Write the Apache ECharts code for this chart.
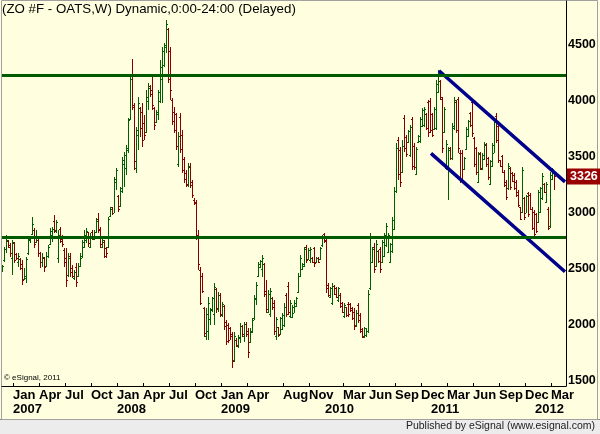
<!DOCTYPE html>
<html>
<head>
<meta charset="utf-8">
<title>ZO #F - OATS,W</title>
<script src="https://cdn.jsdelivr.net/npm/echarts@6/dist/echarts.min.js"></script>
<style>
html, body { margin: 0; padding: 0; background: #ffffe0; }
#chart { width: 600px; height: 434px; }
</style>
</head>
<body>
<div id="chart"></div>
<script>
// weekly bars, first bar is the week of 2006-12-01 (Fridays)
var startDay = Date.UTC(2006, 11, 1);
var weekCount = 282; // axis slots, the last few are empty

var opens = [
  2490,2580,2680,2750,2710,2600,2730,2630,2560,2590,
  2540,2410,2420,2640,2760,2810,2850,2740,2760,2640,
  2560,2600,2530,2620,2720,2800,2930,2840,2600,2860,
  2770,2670,2600,2450,2620,2510,2420,2520,2440,2530,
  2600,2700,2760,2830,2700,2830,2770,2830,2950,2860,
  2700,2740,2690,
  2700,2970,3050,3000,3280,3150,3060,3200,3440,3400,
  3560,3840,4220,3960,3400,3700,3940,3900,3800,3720,
  4000,4130,4100,3940,3810,3880,4000,4200,4320,4480,
  4640,4450,4010,3900,3880,3440,3860,3700,3480,3360,
  3250,3410,3280,3120,3100,2800,2490,2440,2150,1900,
  1950,2050,2140,2100,2320,2140,2270,2090,2170,2030,
  2000,1970,1920,1690,1870,1810,1880,1990,1900,2010,
  1950,1850,1940,2060,2230,2440,2520,2500,2540,2300,
  2120,2100,2240,2200,1900,1980,1920,1960,2000,2270,
  2350,2080,2070,2110,2170,2290,2440,2500,2530,2700,
  2590,2580,2600,2690,2560,2600,2590,2710,2810,2760,
  2360,2250,2200,2350,2330,2220,2270,2200,2080,2160,
  2190,2190,2150,2120,2000,2180,2090,1960,1890,1910,
  1950,2330,2560,2700,2530,2660,2680,2560,2620,2710,
  2650,2560,2660,2860,3200,3650,3560,3370,3850,3680,
  3630,3520,3840,3600,3350,3630,3640,3780,3790,3880,
  3990,4000,3880,3750,3760,4080,4180,4020,3720,3400,
  3420,3580,3490,3760,3990,4020,3540,3540,3390,3570,
  3690,3890,3990,3670,3580,3280,3540,3390,3480,3610,
  3490,3260,3420,3540,3870,3780,3470,3510,3370,3280,
  3220,3400,3360,3340,3280,3190,3050,3010,3130,3000,
  3180,3160,3040,3010,2990,2920,3010,3130,3260,3100,
  3040,2880,3300,3360
];
var highs = [
  2536,2700,2804,2760,2730,2759,2740,2640,2640,2595,
  2581,2506,2610,2789,2789,2968,2863,2849,2790,2655,
  2640,2610,2655,2715,2863,2878,2982,2938,2849,2878,
  2804,2685,2685,2640,2640,2536,2491,2551,2551,2640,
  2759,2849,2863,2834,2819,2849,2849,2953,2997,2878,
  2774,2759,2700,
  2968,3057,3057,3325,3399,3161,3235,3503,3548,3607,
  3846,4232,4372,3979,3771,4039,3950,3979,3875,4098,
  4158,4143,4232,3950,3920,4098,4366,4485,4515,4725,
  4649,4485,4024,3950,3890,3727,3890,3741,3503,3384,
  3444,3444,3295,3131,3116,2849,2521,2462,2164,2149,
  2253,2149,2253,2372,2328,2298,2283,2209,2179,2045,
  2015,1986,1941,1941,1881,1911,2015,2000,2030,2030,
  1971,1971,2060,2268,2387,2566,2581,2625,2551,2402,
  2313,2328,2253,2224,2075,1986,2075,2105,2194,2283,
  2387,2224,2179,2224,2253,2462,2625,2551,2700,2715,
  2685,2700,2610,2700,2610,2610,2700,2804,2819,2789,
  2372,2343,2372,2357,2343,2343,2283,2209,2194,2164,
  2209,2194,2164,2149,2134,2194,2105,1971,1986,1971,
  2313,2819,2700,2730,2759,2670,2700,2759,2819,2908,
  2819,2730,2968,3235,3622,3682,3593,3652,3875,3697,
  3741,3786,3860,3622,3593,3697,3860,3935,3950,3890,
  4009,4024,3890,3950,4188,4275,4188,4039,3950,3652,
  3593,3593,3801,4039,4009,4039,3563,3563,3503,3771,
  3831,3905,4009,3682,3593,3548,3548,3533,3637,3622,
  3503,3474,3622,3831,3890,3801,3474,3518,3384,3295,
  3444,3414,3369,3354,3295,3207,3057,3414,3146,3161,
  3191,3176,3057,3027,2997,3207,3235,3354,3265,3280,
  3057,3369,3399,3369
];
var lows = [
  2477,2566,2640,2685,2610,2447,2551,2581,2521,2491,
  2357,2402,2372,2625,2730,2804,2685,2730,2610,2506,
  2521,2477,2521,2595,2715,2744,2819,2819,2551,2730,
  2700,2521,2343,2432,2432,2417,2402,2343,2432,2521,
  2595,2685,2730,2700,2685,2759,2759,2819,2819,2685,
  2685,2595,2595,
  2685,2968,2982,2997,3207,3012,3057,3176,3235,3340,
  3533,3831,3920,3384,3354,3563,3682,3593,3652,3712,
  3920,4039,3920,3741,3801,3831,3979,3979,4307,4426,
  4158,4009,3786,3712,3563,3414,3533,3354,3265,3235,
  3235,3221,3131,3072,2759,2491,2179,2283,1896,1866,
  1866,2000,2120,2000,2105,2120,2075,2075,1956,1822,
  1837,1866,1614,1673,1807,1792,1837,1896,1852,1896,
  1703,1837,1926,2045,2179,2432,2506,2432,2253,2105,
  2105,2075,2134,1911,1866,1896,1911,1956,1986,2075,
  2090,2060,2060,2105,2164,2283,2432,2491,2521,2551,
  2581,2551,2551,2521,2551,2551,2581,2700,2730,2283,
  2253,2238,2179,2268,2238,2209,2149,2105,2060,2075,
  2075,2120,2045,1956,1986,2015,1926,1881,1881,1896,
  1926,2313,2551,2462,2521,2551,2462,2551,2610,2700,
  2640,2551,2640,2849,3176,3295,3235,3354,3548,3503,
  3622,3503,3384,3384,3340,3622,3622,3771,3771,3741,
  3682,3712,3682,3741,3741,4069,4009,3533,3712,3384,
  3116,3474,3474,3741,3712,3533,3265,3265,3384,3563,
  3682,3771,3682,3414,3340,3265,3384,3384,3474,3414,
  3295,3250,3414,3533,3622,3444,3414,3354,3235,3116,
  3207,3207,3280,3207,3146,3057,2938,2997,2938,2997,
  2968,3027,2849,2789,2819,2908,2997,3116,3176,3087,
  2849,2863,3295,3207
];
var closes = [
  2525,2680,2760,2700,2640,2740,2580,2595,2620,2510,
  2400,2440,2590,2770,2775,2900,2720,2790,2640,2560,
  2610,2520,2620,2700,2840,2860,2850,2920,2800,2750,
  2720,2560,2400,2600,2470,2440,2470,2380,2530,2620,
  2740,2800,2840,2730,2790,2780,2830,2930,2850,2720,
  2760,2620,2640,
  2950,3040,3000,3300,3380,3040,3220,3470,3520,3580,
  3830,4200,3950,3460,3740,3980,3760,3650,3700,4040,
  4120,4060,3960,3790,3900,4080,4300,4450,4500,4690,
  4200,4100,3820,3740,3600,3690,3570,3380,3300,3260,
  3420,3250,3160,3090,2790,2540,2200,2300,1930,2100,
  2200,2130,2240,2340,2150,2270,2100,2190,1990,1860,
  1870,1900,1680,1900,1820,1890,1990,1920,2010,1920,
  1760,1950,2040,2240,2360,2540,2570,2600,2280,2140,
  2280,2300,2160,1950,2050,1910,2060,2090,2160,2100,
  2120,2200,2160,2200,2240,2440,2600,2540,2680,2580,
  2670,2680,2560,2550,2600,2560,2690,2790,2750,2330,
  2270,2330,2350,2280,2250,2330,2170,2120,2180,2090,
  2100,2130,2060,1990,2110,2040,1950,1900,1970,1950,
  2280,2780,2680,2500,2720,2570,2500,2740,2800,2880,
  2800,2720,2940,3200,3580,3350,3280,3600,3580,3530,
  3730,3770,3420,3410,3570,3690,3840,3920,3930,3760,
  3720,3740,3700,3930,4150,4250,4040,3580,3930,3620,
  3560,3490,3780,4010,3740,3580,3300,3290,3490,3750,
  3820,3790,3710,3440,3370,3530,3400,3520,3620,3440,
  3320,3460,3610,3810,3650,3470,3420,3370,3250,3140,
  3420,3230,3290,3220,3160,3070,2950,3380,2960,3150,
  2990,3040,2870,2810,2840,3190,3220,3330,3190,3260,
  2870,3340,3390,3326
];

// horizontal support / resistance and the falling channel
var levels = [4232, 2780];
var channelUpper = [[218, 4270], [281, 3278]];
var channelLower = [[214, 3532], [281, 2475]];

// axis labels
var yTicks = [1500, 2000, 2500, 3000, 3500, 4000, 4500];
var monthTicks = ['2007-01', '2007-04', '2007-07', '2007-10', '2008-01', '2008-04', '2008-07', '2008-10',
  '2009-01', '2009-04', '2009-08', '2009-11', '2010-03', '2010-06', '2010-09', '2010-12',
  '2011-03', '2011-06', '2011-09', '2011-12', '2012-03'];
var yearTicks = ['2007', '2008', '2009', '2010', '2011', '2012'];
var monthNames = ['Jan', 'Feb', 'Mar', 'Apr', 'May', 'Jun', 'Jul', 'Aug', 'Sep', 'Oct', 'Nov', 'Dec'];

var upColor = '#005f00';
var downColor = '#860000';
var levelColor = '#005a00';
var channelColor = '#00008c';
var font = '"Liberation Sans", Arial, sans-serif';

var weeks = [];
for (var w = 0; w < weekCount; w++) {
  weeks.push(new Date(startDay + w * 7 * 864e5).toISOString().slice(0, 10));
}

function firstWeekOf (ym) {
  for (var i = 0; i < weeks.length; i++) {
    if (weeks[i].slice(0, 7) === ym) return i;
  }
  return -1;
}

var monthLabelAt = {};
monthTicks.forEach(function (ym) {
  monthLabelAt[firstWeekOf(ym)] = monthNames[+ym.slice(5) - 1];
});
var yearLabelAt = {};
yearTicks.forEach(function (y) {
  yearLabelAt[firstWeekOf(y + '-01')] = y;
});

var barData = closes.map(function (c, i) {
  return [i, opens[i], highs[i], lows[i], c];
});
var lastClose = closes[closes.length - 1];

// OHLC bar: vertical high-low line, open tick left, close tick right
function renderBar (params, api) {
  var i = api.value(0);
  var hi = api.coord([i, api.value(2)]);
  var lo = api.coord([i, api.value(3)]);
  var op = api.coord([i, api.value(1)]);
  var cl = api.coord([i, api.value(4)]);
  var x = Math.round(hi[0]) - 1;
  var y1 = Math.round(hi[1]);
  var y2 = Math.round(lo[1]);
  var col = api.value(4) >= api.value(1) ? upColor : downColor;
  return {
    type: 'group',
    children: [
      { type: 'rect', shape: { x: x, y: y1, width: 1, height: Math.max(1, y2 - y1) }, style: { fill: col } },
      { type: 'rect', shape: { x: x - 1, y: Math.round(op[1]), width: 1, height: 1 }, style: { fill: col } },
      { type: 'rect', shape: { x: x + 1, y: Math.round(cl[1]), width: 1, height: 1 }, style: { fill: col } }
    ]
  };
}

var axisText = { fontFamily: font, fontWeight: 'bold', fontSize: 13, color: '#000' };

var chart = echarts.init(document.getElementById('chart'));
chart.setOption({
  animation: false,
  backgroundColor: '#ffffe0',
  title: {
    text: '(ZO #F - OATS,W) Dynamic,0:00-24:00 (Delayed)',
    left: 2,
    top: 3,
    padding: 0,
    textStyle: { fontFamily: font, fontWeight: 'normal', fontSize: 13.3, color: '#000' }
  },
  grid: { left: 2, right: 34, top: 1, bottom: 48 },
  xAxis: [
    {
      type: 'category',
      data: weeks,
      boundaryGap: true,
      position: 'bottom',
      axisLine: { lineStyle: { color: '#000', width: 1 } },
      axisTick: {
        show: true,
        inside: true,
        length: 3,
        alignWithLabel: true,
        interval: function (idx) { return monthLabelAt[idx] !== undefined },
        lineStyle: { color: '#000' }
      },
      axisLabel: Object.assign({
        interval: function (idx) { return monthLabelAt[idx] !== undefined },
        formatter: function (v, idx) { return monthLabelAt[idx] || '' },
        align: 'left',
        margin: 3
      }, axisText),
      splitLine: { show: false }
    },
    {
      type: 'category',
      data: weeks,
      boundaryGap: true,
      position: 'bottom',
      axisLine: { show: false },
      axisTick: { show: false },
      axisLabel: Object.assign({
        interval: function (idx) { return yearLabelAt[idx] !== undefined },
        formatter: function (v, idx) { return yearLabelAt[idx] || '' },
        align: 'left',
        margin: 17
      }, axisText),
      splitLine: { show: false }
    }
  ],
  yAxis: {
    type: 'value',
    position: 'right',
    min: 1455,
    max: 4893,
    axisLine: { show: true, lineStyle: { color: '#000', width: 1 } },
    axisTick: { show: false },
    splitLine: { show: false },
    axisLabel: Object.assign({
      customValues: yTicks,
      margin: 2,
      formatter: function (v) { return String(v) }
    }, axisText, { fontSize: 12.5 })
  },
  graphic: [
    { type: 'rect', shape: { x: 0, y: 420, width: 600, height: 14 }, style: { fill: '#ececec' }, silent: true },
    { type: 'line', shape: { x1: 0, y1: 419.5, x2: 600, y2: 419.5 }, style: { stroke: '#8a8a8a', lineWidth: 1 }, silent: true },
    { type: 'rect', shape: { x: 1.5, y: 0.5, width: 596, height: 419 }, style: { fill: 'none', stroke: '#a0a0a0', lineWidth: 1 }, silent: true },
    { type: 'text', right: 5, top: 421, style: { text: 'Published by eSignal (www.esignal.com)', font: '10.5px ' + font, fill: '#222' }, silent: true },
    { type: 'text', left: 4, top: 374, style: { text: '\u00a9 eSignal, 2011', font: '8px ' + font, fill: '#000' }, silent: true }
  ],
  series: [
    {
      type: 'custom',
      name: 'ZO',
      renderItem: renderBar,
      dimensions: ['idx', 'open', 'high', 'low', 'close'],
      encode: { x: 0, y: [1, 2, 3, 4] },
      data: barData,
      clip: true,
      silent: true,
      z: 1
    },
    {
      type: 'line',
      data: channelUpper,
      symbol: 'none',
      silent: true,
      z: 3,
      lineStyle: { color: channelColor, width: 3.5 },
      markLine: {
        symbol: 'none',
        silent: true,
        animation: false,
        data: levels.map(function (v) {
          return { yAxis: v, lineStyle: { color: levelColor, width: 3, type: 'solid' }, label: { show: false } };
        }).concat([{
          yAxis: lastClose,
          lineStyle: { color: 'rgba(0,0,0,0)', width: 1 },
          label: {
            show: true,
            position: 'end',
            distance: 1,
            formatter: String(lastClose),
            color: '#fff',
            backgroundColor: '#990000',
            padding: [2, 3, 1, 3],
            fontFamily: font,
            fontWeight: 'bold',
            fontSize: 12.5
          }
        }])
      }
    },
    {
      type: 'line',
      data: channelLower,
      symbol: 'none',
      silent: true,
      z: 3,
      lineStyle: { color: channelColor, width: 3.5 }
    }
  ]
});
</script>
</body>
</html>
